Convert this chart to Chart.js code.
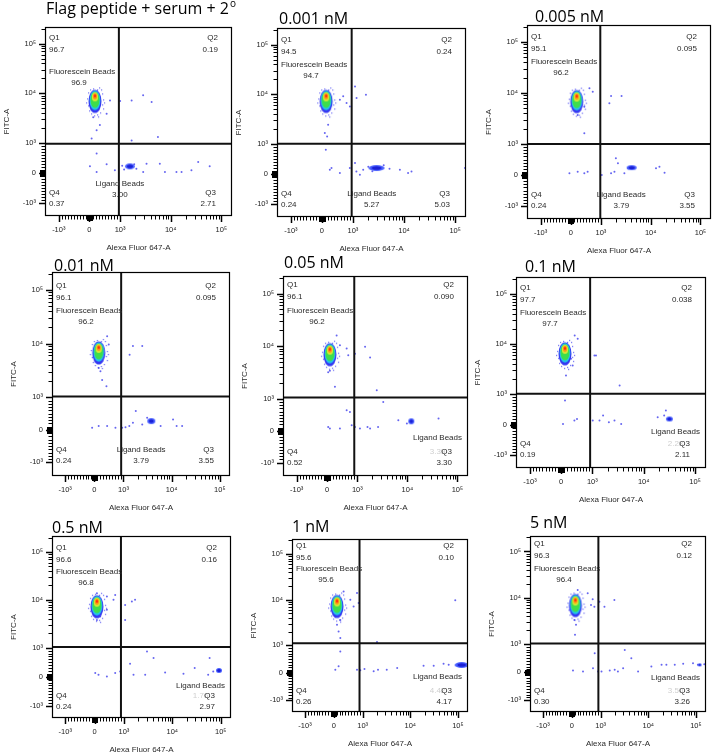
<!DOCTYPE html>
<html><head><meta charset="utf-8">
<script src="https://cdn.jsdelivr.net/npm/chart.js@4.4.1/dist/chart.umd.min.js"></script>
<style>
html,body{margin:0;padding:0;background:#fff;}
body{width:718px;height:755px;position:relative;overflow:hidden;}
canvas{position:absolute;}
</style></head><body>
<script>
// ================= DATA =================
const panelTitles = ["Flag peptide + serum + 2","0.001 nM","0.005 nM","0.01 nM","0.05 nM","0.1 nM","0.5 nM","1 nM","5 nM"];
const q1Values = ["96.7","94.5","95.1","96.1","96.1","97.7","96.6","95.6","96.3"];
const q2Values = ["0.19","0.24","0.095","0.095","0.090","0.038","0.16","0.10","0.12"];
const q3Values = ["2.71","5.03","3.55","3.55","3.30","2.11","2.97","4.17","3.26"];
const q4Values = ["0.37","0.24","0.24","0.24","0.52","0.19","0.24","0.26","0.30"];
const fluorGateValues = ["96.9","94.7","96.2","96.2","96.2","97.7","96.8","95.6","96.4"];
const ligandGateValues = ["3.00","5.27","3.79","3.79","3.39","2.28","1.76","4.42","3.50"];

// quadrant gate positions (fluorescence units)
const gateX = [960,960,980,920,900,930,900,890,920];
const gateY = [980,1010,1000,1030,1060,1030,1040,1100,1030];

// population modes (fluorescence units)
const fluorBeadX = [180,136,198,151,96,123,81,110,124];
const fluorBeadY = [6900,7200,6800,6700,6900,6400,7200,7100,6800];
const ligandBeadX = [1560,2900,4150,3780,12000,31600,92000,120000,120000];
const ligandBeadY = [228,205,240,267,295,190,217,285,260];

// sparse events [Alexa Fluor 647-A, FITC-A]
const eventsP1 = [[670,7200],[1000,7000],[1690,7200],[2850,9100],[4200,6700],[123,3300],[340,2300],[234,1800],[71,1230],[560,3900],[5600,1320],[1690,1130],[16,230],[234,40],[560,295],[830,95],[234,650],[2860,40],[3330,317],[6100,317],[7700,40],[13000,40],[16400,40],[25700,95],[35000,372],[59000,230],[1200,120],[1900,300],[2100,150],[1100,250]];
const eventsP2 = [[579,7800],[796,6700],[1100,14400],[1180,8400],[1800,9800],[903,5700],[686,9100],[94,1670],[168,1420],[126,810],[200,2430],[255,149],[310,205],[580,40],[900,205],[1100,371],[1170,92],[1370,-17],[1590,149],[8300,149],[12000,40],[14000,92],[156000,205],[2000,250],[2400,100],[4000,300],[5200,180]];
const eventsP3 = [[620,12400],[730,10600],[450,5400],[230,3700],[450,1630],[1600,8800],[2600,8800],[1480,6300],[-44,57],[230,109],[450,57],[560,109],[1040,2],[1600,57],[1870,109],[2000,542],[2960,57],[3500,218],[12800,218],[15000,270],[19000,76],[2200,380]];
const eventsP4 = [[440,13700],[495,9600],[323,6200],[151,3500],[210,3050],[268,2100],[416,1600],[1570,9000],[2450,9000],[1340,6200],[-75,65],[151,114],[440,114],[725,65],[955,65],[1100,80],[1320,114],[1570,218],[1800,574],[2450,166],[3100,370],[5900,114],[10700,320],[12700,114],[16500,114]];
const eventsP5 = [[318,16000],[427,10400],[649,9000],[702,6700],[924,7200],[1430,9700],[1800,6100],[262,1700],[2450,1450],[3300,900],[96,3400],[40,3200],[40,117],[96,66],[427,66],[758,587],[815,170],[924,117],[1130,66],[1600,117],[1800,66],[2600,117],[6600,327],[9800,223],[42000,380],[649,640]];
const eventsP6 = [[434,14800],[531,12700],[316,5100],[370,3740],[155,2360],[210,5900],[1100,5900],[1180,5900],[3400,1490],[123,794],[59,28],[425,136],[508,192],[1020,136],[1380,136],[1620,300],[2100,80],[2700,136],[3650,28],[18700,245],[25000,300],[27000,465]];
const eventsP7 = [[81,13800],[421,11700],[645,10000],[703,12700],[1060,7800],[1460,9200],[1700,10000],[1060,3800],[421,6200],[193,4500],[81,3800],[23,127],[135,68],[421,10],[703,127],[873,182],[1580,68],[2750,68],[3000,870],[4100,643],[7100,148],[17000,103],[29000,299],[55000,68],[59000,643],[70000,182],[1340,447]];
const eventsP8 = [[339,15200],[571,10000],[685,7100],[859,8500],[803,14000],[51,4300],[110,2800],[165,2000],[224,1440],[224,3600],[2000,1170],[88000,9700],[51,114],[165,234],[224,777],[803,114],[917,89],[1090,140],[1700,53],[2100,114],[3200,114],[5300,176],[19000,259],[31000,259],[50000,332],[64000,296]];
const eventsP9 = [[203,14700],[550,12500],[723,9300],[782,6400],[664,7000],[955,8200],[1940,8900],[1200,6400],[89,3300],[144,2600],[110,1580],[40,56],[387,21],[734,142],[793,676],[907,21],[1040,21],[1550,56],[1970,81],[2300,21],[2960,142],[3200,790],[4400,498],[6100,21],[11600,199],[19000,259],[24000,259],[36000,259],[54000,295],[87000,320],[110000,259],[150000,284]];
const eventsByPanel = [eventsP1,eventsP2,eventsP3,eventsP4,eventsP5,eventsP6,eventsP7,eventsP8,eventsP9];

// axis ticks
const majorTickValues = [-1000,0,1000,10000,100000];
const majorTickLabels = ["-10³","0","10³","10⁴","10⁵"];
const minorTickValues = [-900,-800,-700,-600,-500,-400,-300,-200,-100,100,200,300,400,500,600,700,800,900,2000,3000,4000,5000,6000,7000,8000,9000,20000,30000,40000,50000,60000,70000,80000,90000,200000];
const zeroTickValues = [-90,-80,-70,-60,-50,-40,-30,-20,-10,10,20,30,40,50,60,70,80,90];

// ================= LAYOUT / STYLE =================
const boxes = [[45,27,187,189],[277,28,189,189],[527,25,184,194],[52,272,178,204],[283,276,185,200],[516,277,190,191],[52,536,179,182],[292,539,176,173],[530,536,176,176]];
const titleDx = [1,2,8,2,1,9,0,0,0];
const titleDy = [13,4,3,1,8,5,3,7,8];
const qTopDy = [11,12,12,14,9,11,12,7,8];
const fbDy = [45,37,37,39,35,36,36,30,33];
const qBotDy = [23,23,24,26,24,24,22,21,21];
const ligMode = ['center','center','center','center','right','right','right','right','right'];
const ligDx = [1,20,21,20,0,0,0,0,0];
const ligDy = [32,23,24,26,38,36,32,35,34];
const ligBlobSize = [[5,3],[8,3],[5,2.5],[4,3],[3,3],[3.5,2.5],[3,2.5],[7,3],[2,1.5]];
// fixed speckle offsets drawn around the dense cores (texture of the density image)
const haloOffsets = [[-7,-9],[-8,-3],[-7,4],[-6,9],[-4,12],[7,-8],[8,-2],[7,3],[8,7],[5,11],[-2,-13],[2,-12],[6,-12],[-1,14],[2,13],[9,1],[-9,1],[4,-14],[-5,-12],[3,15]];

const X_MIN=-1.45, X_MAX=4.65, Y_MIN=-1.42, Y_MAX=4.85;
// biexponential-like display transform
function tf(v){ return v <= 1000 ? v/1000 : 1 + 1.65*Math.log10(v/1000); }

const ANNOT_FONT = '8px "Liberation Sans", Arial, sans-serif';
const TEXT_COL = '#2a2a2a';

function ell(g,cx,cy,rx,ry,col){ g.fillStyle=col; g.beginPath(); g.ellipse(cx,cy,rx,ry,0,0,Math.PI*2); g.fill(); }
function makeFluorBlob(){
  const c=document.createElement('canvas'); c.width=26; c.height=38;
  const g=c.getContext('2d');
  const cx=13, cy=19;
  g.fillStyle='rgba(60,60,240,0.75)';
  haloOffsets.forEach(o=>g.fillRect(cx+o[0],cy+o[1],1.2,1.2));
  g.filter='blur(0.5px)';
  ell(g,cx,cy,6.5,11.5,'#3436f2');
  ell(g,cx,cy-1,5.4,9.8,'#22c6ea');
  ell(g,cx,cy-1.5,4.5,8,'#3ede4c');
  ell(g,cx,cy-4.5,3.1,4.6,'#d6e834');
  ell(g,cx,cy-5,2.1,2.9,'#ff9414');
  ell(g,cx,cy-5.5,1.1,1.5,'#ff2a10');
  return c;
}
function makeLigBlob(rx,ry){
  const c=document.createElement('canvas'); c.width=Math.ceil(2*rx+4); c.height=Math.ceil(2*ry+4);
  const g=c.getContext('2d');
  g.filter='blur(0.4px)';
  ell(g,c.width/2,c.height/2,rx,ry,'#4a60ff');
  ell(g,c.width/2,c.height/2,rx*0.6,ry*0.6,'#1a20d6');
  return c;
}
const fluorBlob = makeFluorBlob();

const boxPlugin = {id:'box', afterDatasetsDraw(chart){
  const a=chart.chartArea, ctx=chart.ctx;
  ctx.save(); ctx.strokeStyle='#000'; ctx.lineWidth=1.2;
  ctx.strokeRect(a.left+0.5,a.top+0.5,a.right-a.left-1,a.bottom-a.top-1);
  ctx.restore();
}};
const tickPlugin = {id:'tickMarks', afterDraw(chart){
  const a=chart.chartArea, ctx=chart.ctx, xs=chart.scales.x, ys=chart.scales.y;
  ctx.save(); ctx.strokeStyle='#000'; ctx.lineWidth=1;
  const draw=(vals,len,lw)=>{
    ctx.lineWidth=lw;
    vals.forEach(v=>{
      const px=Math.round(xs.getPixelForValue(tf(v)))+0.5;
      if(px>=a.left && px<=a.right){ ctx.beginPath(); ctx.moveTo(px,a.bottom); ctx.lineTo(px,a.bottom+len); ctx.stroke(); }
      const py=Math.round(ys.getPixelForValue(tf(v)))+0.5;
      if(py>=a.top && py<=a.bottom){ ctx.beginPath(); ctx.moveTo(a.left,py); ctx.lineTo(a.left-len,py); ctx.stroke(); }
    });
  };
  draw(minorTickValues,3.5,1); draw(zeroTickValues,5,1); draw(majorTickValues,6,1.5);
  ctx.restore();
}};
const titlePlugin = {id:'panelTitle', afterDraw(chart,args,o){
  const ctx=chart.ctx, a=chart.chartArea;
  ctx.save(); ctx.fillStyle='#000'; ctx.textAlign='left'; ctx.textBaseline='alphabetic';
  ctx.font='16px "Open Sans", sans-serif';
  const x=a.left+o.dx, y=a.top-o.dy;
  ctx.fillText(o.text,x,y);
  if(o.sup){ const w=ctx.measureText(o.text).width; ctx.font='10px "Open Sans", sans-serif'; ctx.fillText(o.sup,x+w+1,y-7); }
  ctx.restore();
}};
const annotPlugin = {id:'annot', afterDatasetsDraw(chart,args,o){
  const ctx=chart.ctx, a=chart.chartArea;
  ctx.save(); ctx.font=ANNOT_FONT; ctx.textBaseline='middle';
  const txt=(s,x,y,al,col)=>{ ctx.textAlign=al; ctx.fillStyle=col||TEXT_COL; ctx.fillText(s,x,y); };
  txt('Q1',a.left+4,a.top+o.qTop,'left');
  txt(o.q1,a.left+4,a.top+o.qTop+11.5,'left');
  txt('Q2',a.right-14,a.top+o.qTop,'right');
  txt(o.q2,a.right-14,a.top+o.qTop+11.5,'right');
  txt('Fluorescein Beads',a.left+4,a.top+o.fbDy,'left');
  txt(o.fb,a.left+34,a.top+o.fbDy+11,'center');
  txt('Q4',a.left+4,a.bottom-o.qBot,'left');
  txt(o.q4,a.left+4,a.bottom-o.qBot+11,'left');
  if(o.ligMode==='center'){
    const gx=chart.scales.x.getPixelForValue(tf(o.gateX))+o.ligDx;
    txt('Ligand Beads',gx,a.bottom-o.ligDy,'center');
    txt(o.lig,gx,a.bottom-o.ligDy+11,'center');
  } else {
    const w=ctx.measureText('Ligand Beads').width;
    txt('Ligand Beads',a.right-6,a.bottom-o.ligDy,'right');
    txt(o.lig,a.right-6-w/2,a.bottom-o.qBot,'center','#cfcfcf');
  }
  txt('Q3',a.right-16,a.bottom-o.qBot,'right');
  txt(o.q3,a.right-16,a.bottom-o.qBot+11,'right');
  ctx.restore();
}};

const Y_AXIS_W=48, X_AXIS_H=42, PAD_TOP=30, PAD_R=12;
const tickFont = {family:'"Liberation Sans", "DejaVu Sans", sans-serif', size:7.5};
const titleFont = {family:'"Liberation Sans", Arial, sans-serif', size:8};

function labelFor(v){ const i=majorTickValues.findIndex(t=>Math.abs(tf(t)-v)<1e-9); return i>=0?majorTickLabels[i]:''; }

function makePanel(i){
  const [L,T,W,H]=boxes[i];
  const cv=document.createElement('canvas');
  cv.width=Y_AXIS_W+W+PAD_R; cv.height=PAD_TOP+H+X_AXIS_H;
  cv.style.left=(L-Y_AXIS_W)+'px'; cv.style.top=(T-PAD_TOP)+'px';
  cv.style.width=cv.width+'px'; cv.style.height=cv.height+'px';
  document.body.appendChild(cv);
  const gx=tf(gateX[i]), gy=tf(gateY[i]);
  new Chart(cv,{
    type:'scatter',
    data:{datasets:[
      {label:'gate V',data:[{x:gx,y:Y_MIN},{x:gx,y:Y_MAX}],showLine:true,borderColor:'#111',borderWidth:2,pointRadius:0},
      {label:'gate H',data:[{x:X_MIN,y:gy},{x:X_MAX,y:gy}],showLine:true,borderColor:'#111',borderWidth:2,pointRadius:0},
      {label:'Fluorescein Beads',data:[{x:tf(fluorBeadX[i]),y:tf(fluorBeadY[i])}],pointStyle:fluorBlob,pointRadius:3},
      {label:'Ligand Beads',data:[{x:tf(ligandBeadX[i]),y:tf(ligandBeadY[i])}],pointStyle:makeLigBlob(ligBlobSize[i][0],ligBlobSize[i][1]),pointRadius:3},
      {label:'events',data:eventsByPanel[i].map(p=>({x:tf(p[0]),y:tf(p[1])})),pointRadius:1,backgroundColor:'rgba(50,50,235,0.75)',borderWidth:0}
    ]},
    options:{
      responsive:false,animation:false,devicePixelRatio:1,
      layout:{padding:{top:PAD_TOP,right:PAD_R,left:0,bottom:0}},
      plugins:{legend:{display:false},tooltip:{enabled:false},
        panelTitle:{text:panelTitles[i],sup:i===0?'o':'',dx:titleDx[i],dy:titleDy[i]},
        annot:{q1:q1Values[i],q2:q2Values[i],q3:q3Values[i],q4:q4Values[i],fb:fluorGateValues[i],lig:ligandGateValues[i],
          qTop:qTopDy[i],fbDy:fbDy[i],qBot:qBotDy[i],ligMode:ligMode[i],ligDx:ligDx[i],ligDy:ligDy[i],gateX:gateX[i]}},
      scales:{
        x:{type:'linear',min:X_MIN,max:X_MAX,
          afterFit:s=>{s.height=X_AXIS_H;},
          afterBuildTicks:s=>{s.ticks=majorTickValues.map(v=>({value:tf(v)}));},
          ticks:{callback:v=>labelFor(v),font:tickFont,color:'#222',padding:9,maxRotation:0,autoSkip:false},
          grid:{display:false,drawTicks:false},border:{display:false},
          title:{display:true,text:'Alexa Fluor 647-A',font:titleFont,color:TEXT_COL,padding:{top:0,bottom:5}}},
        y:{type:'linear',min:Y_MIN,max:Y_MAX,
          afterFit:s=>{s.width=Y_AXIS_W;},
          afterBuildTicks:s=>{s.ticks=majorTickValues.map(v=>({value:tf(v)}));},
          ticks:{callback:v=>labelFor(v),font:tickFont,color:'#222',padding:9,autoSkip:false},
          grid:{display:false,drawTicks:false},border:{display:false},
          title:{display:true,text:'FITC-A',font:titleFont,color:TEXT_COL,padding:{top:5,bottom:0}}}
      }
    },
    plugins:[boxPlugin,tickPlugin,titlePlugin,annotPlugin]
  });
}
for(let i=0;i<9;i++) makePanel(i);
</script>
</body></html>
